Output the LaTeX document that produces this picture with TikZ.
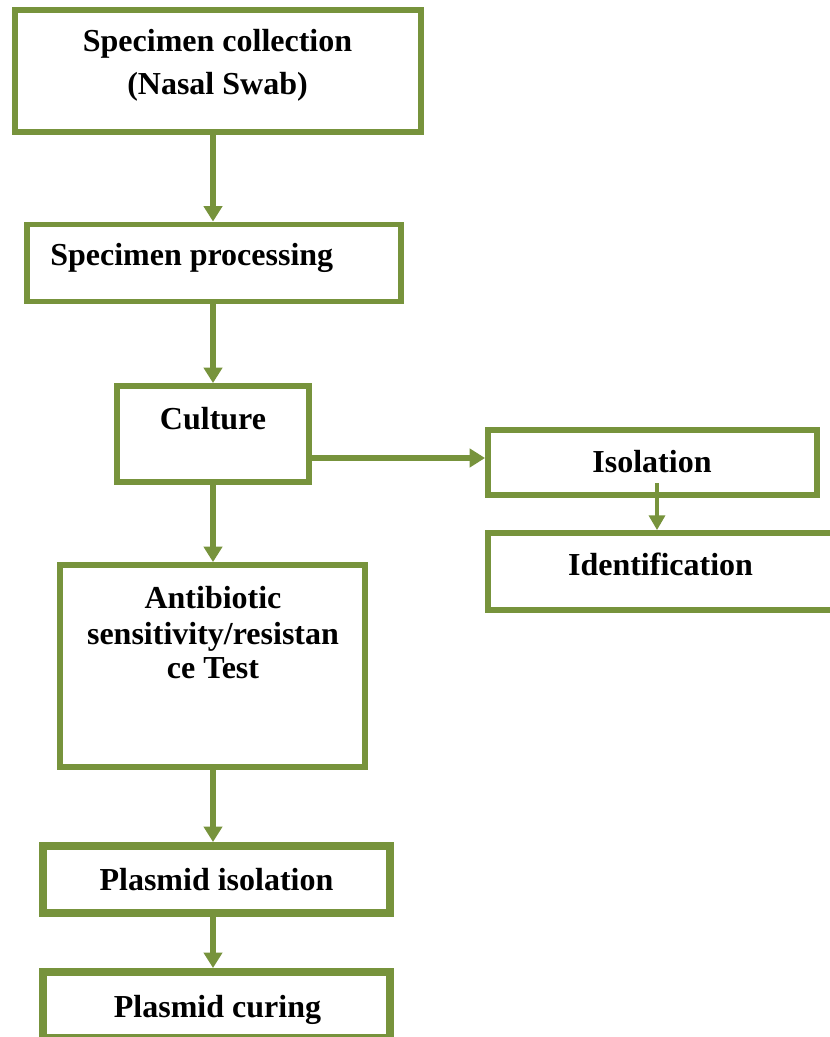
\documentclass[tikz,border=0pt]{standalone}
\usepackage{fontspec}
\setmainfont{Liberation Serif}
\usetikzlibrary{arrows.meta}
\definecolor{boxgreen}{RGB}{119,147,60}

\begin{document}
\begin{tikzpicture}[x=0.75pt,y=-0.75pt,
  box/.style 2 args={draw=boxgreen,line width=4.4pt,minimum width=#1*0.75pt,minimum height=#2*0.75pt,inner sep=0pt},
  heavybox/.style={line width=6pt},
  lbl/.style={anchor=base,inner sep=0pt,font=\fontsize{24}{28}\selectfont\bfseries},
  arr/.style={draw=boxgreen,line width=4.6pt,-{Triangle[width=13.5pt,length=11.5pt]}},
  thinarr/.style={draw=boxgreen,line width=2.4pt,-{Triangle[width=12pt,length=11pt]}}]
\useasboundingbox (0,0) rectangle (829,1037);

% Boxes
\node[box={406}{122}] (coll) at (218,71) {};
\node[box={374}{77}] (proc) at (214,263) {};
\node[box={192}{96}] (cult) at (213,434) {};
\node[box={329}{65}] (iso) at (652.5,462.5) {};
\node[box={372}{77}] (iden) at (674,571.5) {};
\node[box={305}{202}] (abst) at (212.5,666) {};
\node[box={347}{67},heavybox] (pliso) at (216.5,879.5) {};
\node[box={347}{66},heavybox] (plcur) at (216.5,1005) {};

% Labels
\node[lbl] (coll-a) at (217.5,52) {Specimen collection};
\node[lbl] (coll-b) at (217.5,95) {(Nasal Swab)};
\node[lbl,anchor=base west] (proc-a) at (50,266) {Specimen processing};
\node[lbl] (cult-a) at (213,429) {Culture};
\node[lbl] (iso-a) at (652,472) {Isolation};
\node[lbl] (iden-a) at (660.5,575) {Identification};
\node[lbl] (abst-a) at (213,608) {Antibiotic};
\node[lbl] (abst-b) at (213,644) {sensitivity/resistan};
\node[lbl] (abst-c) at (213,678) {ce Test};
\node[lbl] (pliso-a) at (216.5,890) {Plasmid isolation};
\node[lbl] (plcur-a) at (217.5,1017) {Plasmid curing};

% Arrows
\coordinate (spine) at (213,0);
\coordinate (isostart) at (657,483);
\draw[arr] (coll.south -| spine) -- (proc.north -| spine);
\draw[arr] (proc.south -| spine) -- (cult.north -| spine);
\draw[arr] (cult.south -| spine) -- (abst.north -| spine);
\draw[arr] (abst.south -| spine) -- (pliso.north -| spine);
\draw[arr] (pliso.south -| spine) -- (plcur.north -| spine);
\draw[arr] (cult.east |- 0,458) -- (iso.west |- 0,458);
\draw[thinarr] (isostart) -- (iden.north -| isostart);
\end{tikzpicture}
\end{document}
